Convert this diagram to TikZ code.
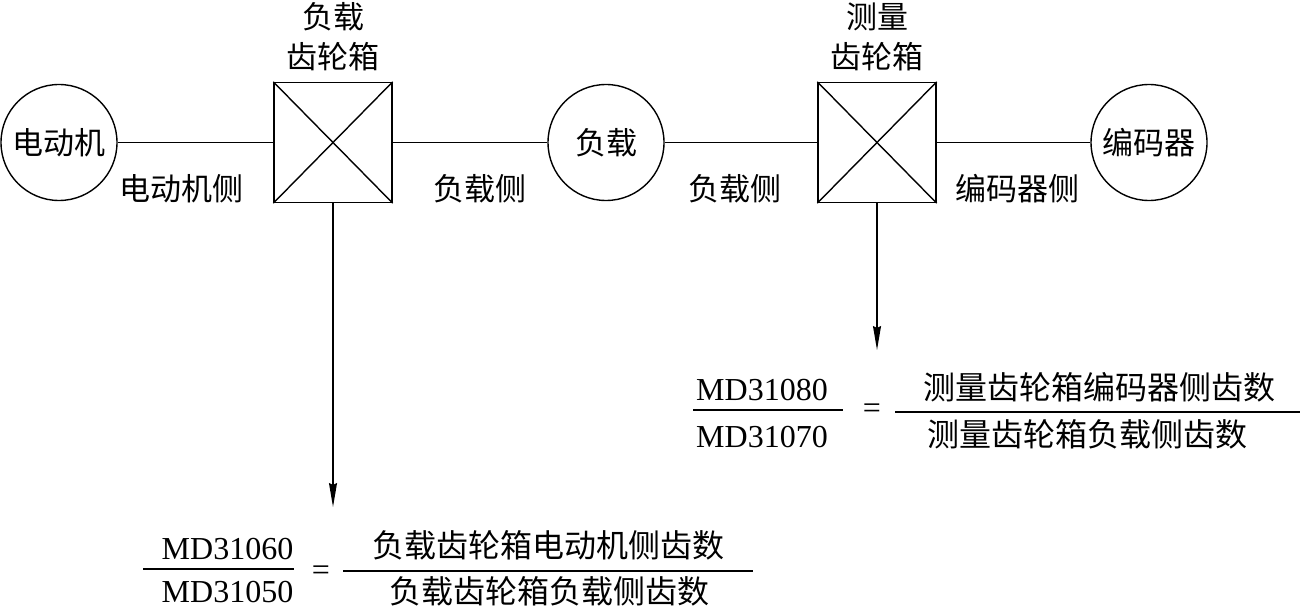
\documentclass[tikz,border=0pt]{standalone}
\usepackage{fontspec}
\setmainfont{Liberation Serif}
\newfontfamily\cjk{Noto Sans CJK SC}
\usetikzlibrary{arrows.meta}
\begin{document}
\begin{tikzpicture}[x=1pt,y=-1pt,
  lw/.style={line width=1.4pt},
  circ/.style={draw,lw,circle,minimum size=116pt,inner sep=0pt,font=\cjk\fontsize{31}{31}\selectfont},
  gbox/.style={draw,lw,rectangle,minimum width=118pt,minimum height=120pt,inner sep=0pt},
  lbl/.style={inner sep=0pt,font=\cjk\fontsize{31}{40}\selectfont,align=center},
  flbl/.style={inner sep=0pt,font=\cjk\fontsize{32}{32}\selectfont},
  mdtxt/.style={inner sep=0pt,anchor=base,font=\fontsize{32}{32}\selectfont},
  eqs/.style={inner sep=0pt,font=\fontsize{32}{32}\selectfont},
  conn/.style={lw},
  arr/.style={lw,-{Stealth[length=24pt,width=8pt,inset=2pt]}}
]
\useasboundingbox[fill=white] (0,0) rectangle (1301,607);

% main chain
\node[circ] (motor) at (59,142.5) {电动机};
\node[gbox] (gb1) at (333,142.5) {};
\node[circ] (load) at (606,142.5) {负载};
\node[gbox] (gb2) at (877,142.5) {};
\node[circ] (enc) at (1149,142.5) {编码器};

\draw[lw] (gb1.north west) -- (gb1.south east) (gb1.north east) -- (gb1.south west);
\draw[lw] (gb2.north west) -- (gb2.south east) (gb2.north east) -- (gb2.south west);

\draw[conn] (motor.east) -- (gb1.west);
\draw[conn] (gb1.east) -- (load.west);
\draw[conn] (load.east) -- (gb2.west);
\draw[conn] (gb2.east) -- (enc.west);

% labels
\node[lbl] (gb1t) at (333,37) {负载\\齿轮箱};
\node[lbl] (gb2t) at (877,37) {测量\\齿轮箱};
\node[lbl] (s1) at (181.5,189) {电动机侧};
\node[lbl] (s2) at (480,189) {负载侧};
\node[lbl] (s3) at (735,189) {负载侧};
\node[lbl] (s4) at (1017,189) {编码器侧};

% arrows
\coordinate (tip1) at (333,507);
\coordinate (tip2) at (877,350);
\draw[arr] (gb1.south) -- (tip1);
\draw[arr] (gb2.south) -- (tip2);

% left formula
\node[mdtxt] (n1) at (227.5,559) {MD31060};
\node[mdtxt] (d1) at (227.5,602) {MD31050};
\draw[lw] (143,569) -- (294,569);
\node[eqs] (eq1) at (321,573) {=};
\draw[lw] (343,571) -- (753,571);
\node[flbl] (fn1) at (548,545) {负载齿轮箱电动机侧齿数};
\node[flbl] (fd1) at (549.5,591) {负载齿轮箱负载侧齿数};

% right formula
\node[mdtxt] (n2) at (762,400) {MD31080};
\node[mdtxt] (d2) at (762,447) {MD31070};
\draw[lw] (693,410) -- (843,410);
\node[eqs] (eq2) at (872,411) {=};
\draw[lw] (895,412) -- (1300,412);
\node[flbl] (fn2) at (1099,387) {测量齿轮箱编码器侧齿数};
\node[flbl] (fd2) at (1087,434) {测量齿轮箱负载侧齿数};
\end{tikzpicture}
\end{document}
